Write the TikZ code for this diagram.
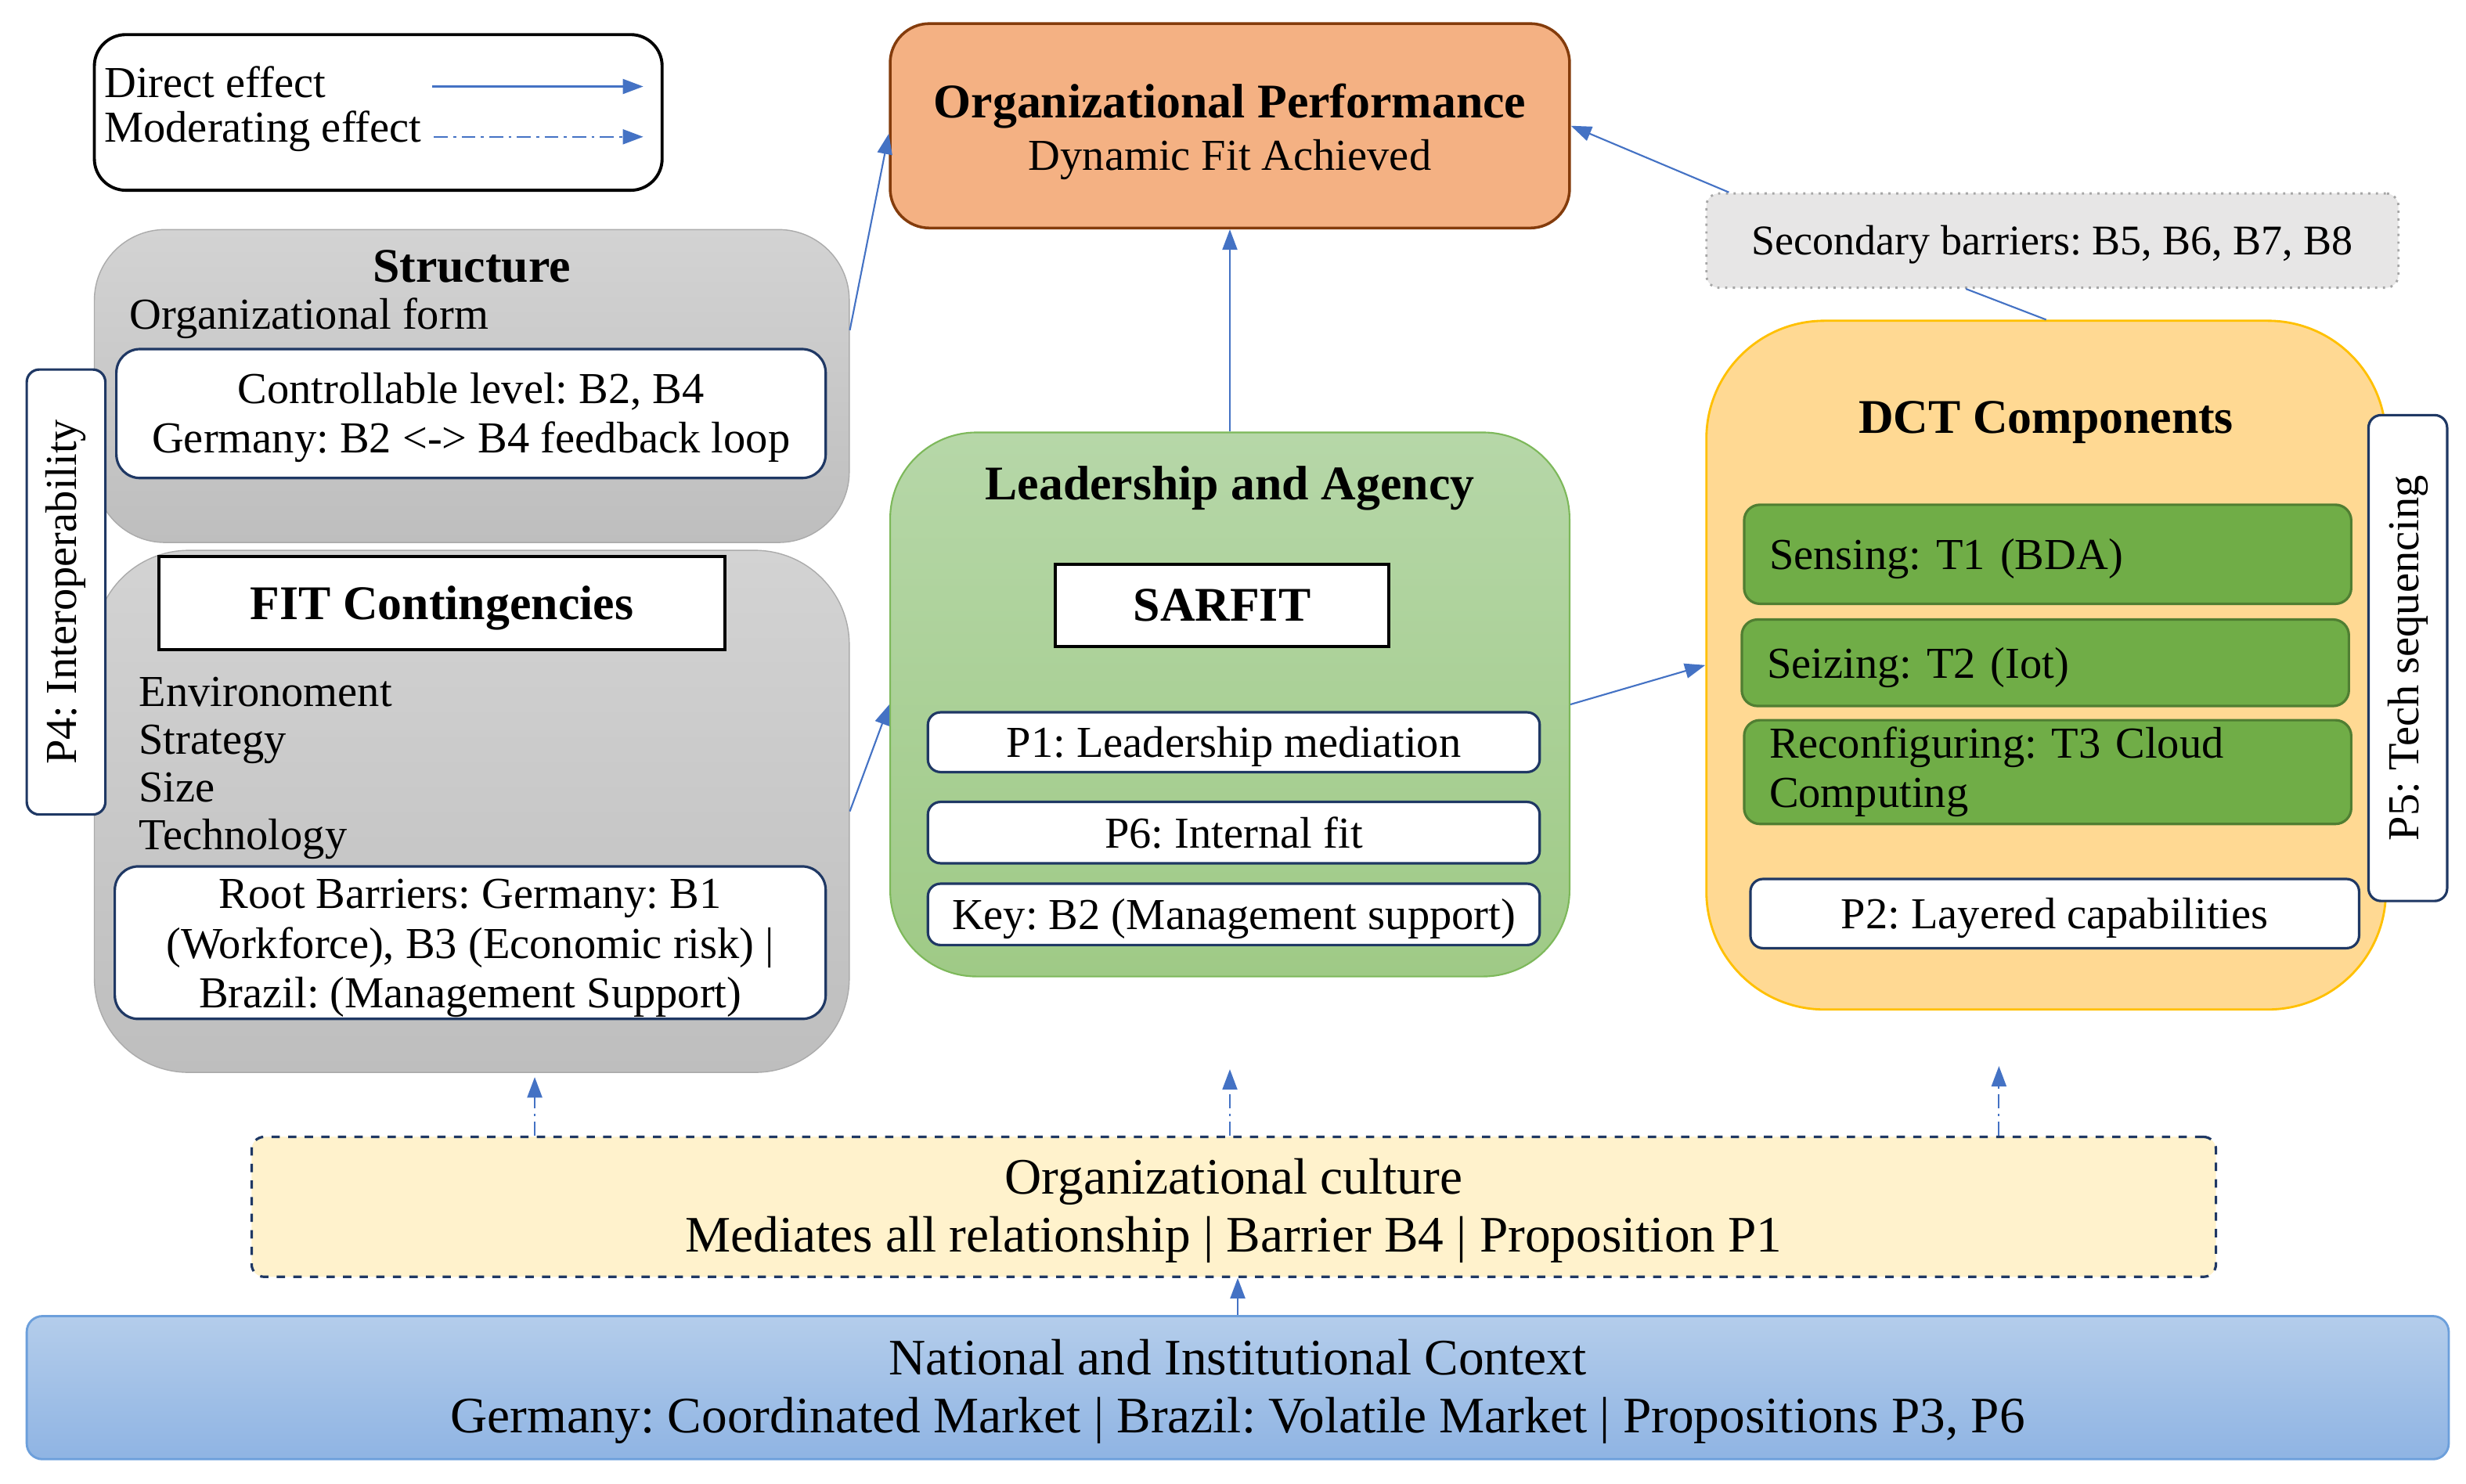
\documentclass[tikz,border=0pt]{standalone}
\usepackage{fontspec}
\setmainfont{Liberation Serif}
\frenchspacing
\usetikzlibrary{arrows.meta, positioning}

\definecolor{arrowblue}{HTML}{4472C4}
\definecolor{navy}{HTML}{1F3864}
\definecolor{perffill}{HTML}{F4B183}
\definecolor{perfdraw}{HTML}{843C0C}
\definecolor{secfill}{HTML}{E7E6E6}
\definecolor{greytop}{HTML}{D3D3D3}
\definecolor{greybot}{HTML}{BEBEBE}
\definecolor{leadtop}{HTML}{B6D7A8}
\definecolor{leadbot}{HTML}{9FCA86}
\definecolor{leaddraw}{HTML}{7DB85A}
\definecolor{dctfill}{HTML}{FFD993}
\definecolor{dctdraw}{HTML}{FFC000}
\definecolor{techfill}{HTML}{70AD47}
\definecolor{techdraw}{HTML}{507E32}
\definecolor{culturefill}{HTML}{FFF2CC}
\definecolor{nattop}{HTML}{B4CDEB}
\definecolor{natbot}{HTML}{8FB4E3}
\definecolor{natdraw}{HTML}{6C9FDB}

\newcommand{\bodyfont}{\fontsize{16}{18}\selectfont}
\newcommand{\headfont}{\fontsize{17.5}{19}\selectfont\bfseries}
\newcommand{\widefont}{\fontsize{18.5}{20}\selectfont}

\tikzset{
  txt/.style={inner sep=0pt, font=\bodyfont},
  head/.style={inner sep=0pt, font=\headfont},
  boxtext/.style={inner sep=0pt, font=\bodyfont, align=center, yshift=-0.5mm},
  whitebox/.style={draw=navy, fill=white, line width=0.9pt, rounded corners=3mm, inner sep=0pt, font=\bodyfont, align=center},
  tab/.style={whitebox, rounded corners=1.6mm, rotate=90, minimum height=10mm},
  propbox/.style={whitebox, rounded corners=1.6mm, text depth=0pt},
  greypanel/.style={draw=greybot!90!black, line width=0.4pt, top color=greytop, bottom color=greybot, minimum width=96mm},
  techbox/.style={draw=techdraw, fill=techfill, line width=0.9pt, rounded corners=2mm, inner xsep=3.2mm, inner ysep=0pt, text width=70.8mm, text depth=0pt, align=left, font=\bodyfont},
  titlebox/.style={draw=black, fill=white, line width=1.1pt, inner sep=0pt, text depth=0pt, font=\headfont},
  direct/.style={draw=arrowblue, line width=0.6pt, -{Triangle[length=2.6mm,width=1.9mm]}},
  moderating/.style={direct, dash pattern=on 5pt off 2pt on 1pt off 2pt}
}

\begin{document}
\begin{tikzpicture}[x=0.2mm, y=-0.2mm]
  \useasboundingbox (0,0) rectangle (1568,943.3);

  % Legend
  \node[draw=black, fill=white, line width=1.1pt, rounded corners=4mm, minimum width=72.2mm, minimum height=19.8mm] (legend) at (240.5,71.5) {};
  \node[txt, anchor=west] (legdirect) at (66,52) {Direct effect};
  \node[txt, anchor=west] (legmod) at (66,83.5) {Moderating effect};
  \coordinate (dirA) at (275,55);
  \coordinate (dirB) at (409,55);
  \coordinate (modA) at (276,87);
  \coordinate (modB) at (409,87);
  \draw[direct] (dirA) -- (dirB);
  \draw[moderating] (modA) -- (modB);

  % Organizational performance
  \node[draw=perfdraw, fill=perffill, line width=1pt, rounded corners=5mm, minimum width=86.4mm, minimum height=26mm] (perf) at (782,80) {};
  \node[boxtext, yshift=-0.3mm] (perftext) at (perf.center) {{\headfont Organizational Performance}\\[1pt]Dynamic Fit Achieved};

  % Secondary barriers
  \node[draw=gray!70, dotted, line width=0.8pt, fill=secfill, rounded corners=1.6mm, minimum width=88mm, minimum height=12mm] (second) at (1305,153) {};
  \node[boxtext, font=\fontsize{15.3}{17}\selectfont] (sectext) at (second.center) {Secondary barriers: B5, B6, B7, B8};

  % Structure
  \node[greypanel, rounded corners=9mm, minimum height=39.8mm] (struct) at (300,245.5) {};
  \node[head] (structtitle) at (300,169.5) {Structure};
  \node[txt, anchor=west] (orgform) at (82,202.5) {Organizational form};
  \node[whitebox, minimum width=90.2mm, minimum height=16.4mm] (control) at (299.5,263) {};
  \node[boxtext] (controltext) at (control.center) {Controllable level: B2, B4\\Germany: B2 <-> B4 feedback loop};

  % FIT contingencies
  \node[greypanel, rounded corners=12mm, minimum height=66.4mm] (fit) at (300,516) {};
  \node[titlebox, minimum width=72mm, minimum height=11.8mm] (fittitle) at (281,383.5) {FIT Contingencies};
  \node[inner sep=0pt, anchor=west, align=left, font=\fontsize{16}{17.3}\selectfont] (fitlist) at (88,488.5)
    {Environoment\\Strategy\\Size\\Technology};
  \node[whitebox, minimum width=90.4mm, minimum height=19.4mm] (roots) at (299,599.5) {};
  \node[boxtext, yshift=-0.2mm] (rootstext) at (roots.center) {Root Barriers: Germany: B1\\(Workforce), B3 (Economic risk) |\\Brazil: (Management Support)};

  % P4 tab
  \node[tab, minimum width=56.6mm] (ptab4) at (42,376.5) {P4: Interoperability};

  % Leadership and agency
  \node[draw=leaddraw, line width=0.6pt, top color=leadtop, bottom color=leadbot, rounded corners=11mm, minimum width=86.4mm, minimum height=69.2mm] (lead) at (782,448) {};
  \node[head] (leadtitle) at (782,310.5) {Leadership and Agency};
  \node[titlebox, minimum width=42.4mm, minimum height=10.4mm] (sarfit) at (777,385) {SARFIT};
  \node[propbox, minimum width=77.8mm, minimum height=7.6mm] (prop1) at (784.5,472) {P1: Leadership mediation};
  \node[propbox, minimum width=77.8mm, minimum height=7.8mm] (prop6) at (784.5,529.5) {P6: Internal fit};
  \node[propbox, minimum width=77.8mm, minimum height=7.8mm] (keyb2) at (784.5,581.5) {Key: B2 (Management support)};

  % DCT components
  \node[draw=dctdraw, fill=dctfill, line width=0.8pt, rounded corners=15mm, minimum width=86.4mm, minimum height=87.6mm] (dct) at (1301,423) {};
  \node[head] (dcttitle) at (1301,268.5) {DCT Components};
  \node[techbox, minimum height=12.6mm] (sensing) at (1302,352.5) {Sensing: T1 (BDA)};
  \node[techbox, minimum height=11mm] (seizing) at (1300.5,421.5) {Seizing: T2 (Iot)};
  \node[techbox, text depth=, minimum height=13.2mm] (reconf) at (1302,491) {Reconfiguring: T3 Cloud\\Computing};
  \node[propbox, minimum width=77.4mm, minimum height=8.8mm] (prop2) at (1306.5,581) {P2: Layered capabilities};

  % P5 tab
  \node[tab, minimum width=61.8mm] (ptab5) at (1531,418.5) {P5: Tech sequencing};

  % Organizational culture
  \node[draw=navy, fill=culturefill, dashed, line width=0.9pt, rounded corners=1.6mm, minimum width=249.8mm, minimum height=17.8mm] (culture) at (784.5,767.5) {};
  \node[boxtext, font=\widefont] (culturetext) at (culture.center) {Organizational culture\\[1pt]Mediates all relationship | Barrier B4 | Proposition P1};

  % National context
  \node[draw=natdraw, line width=0.8pt, top color=nattop, bottom color=natbot, rounded corners=2mm, minimum width=308mm, minimum height=18.2mm] (national) at (787,882.5) {};
  \node[boxtext, font=\widefont] (nationaltext) at (national.center) {National and Institutional Context\\[1pt]Germany: Coordinated Market | Brazil: Volatile Market | Propositions P3, P6};

  % Direct effects
  \draw[direct] ([yshift=7.1mm]struct.east) -- ([yshift=-1mm]perf.west);
  \draw[direct] (fit.east) -- (lead.west);
  \draw[direct] (lead.north) -- (perf.south);
  \draw[direct] (lead.east) -- (dct.west);
  \draw[direct] ([xshift=3mm]second.north west) -- (perf.east);
  \draw[draw=arrowblue, line width=0.6pt] ([xshift=-11mm]second.south) -- (dct.north);
  \draw[direct] (national.north) -- (national.north |- culture.south);

  % Moderating effects of culture
  \coordinate (modfit) at (340,685);
  \coordinate (modlead) at (782,680);
  \coordinate (moddct) at (1271,678);
  \draw[moderating] (culture.north -| modfit) -- (modfit);
  \draw[moderating] (culture.north -| modlead) -- (modlead);
  \draw[moderating] (culture.north -| moddct) -- (moddct);
\end{tikzpicture}
\end{document}
